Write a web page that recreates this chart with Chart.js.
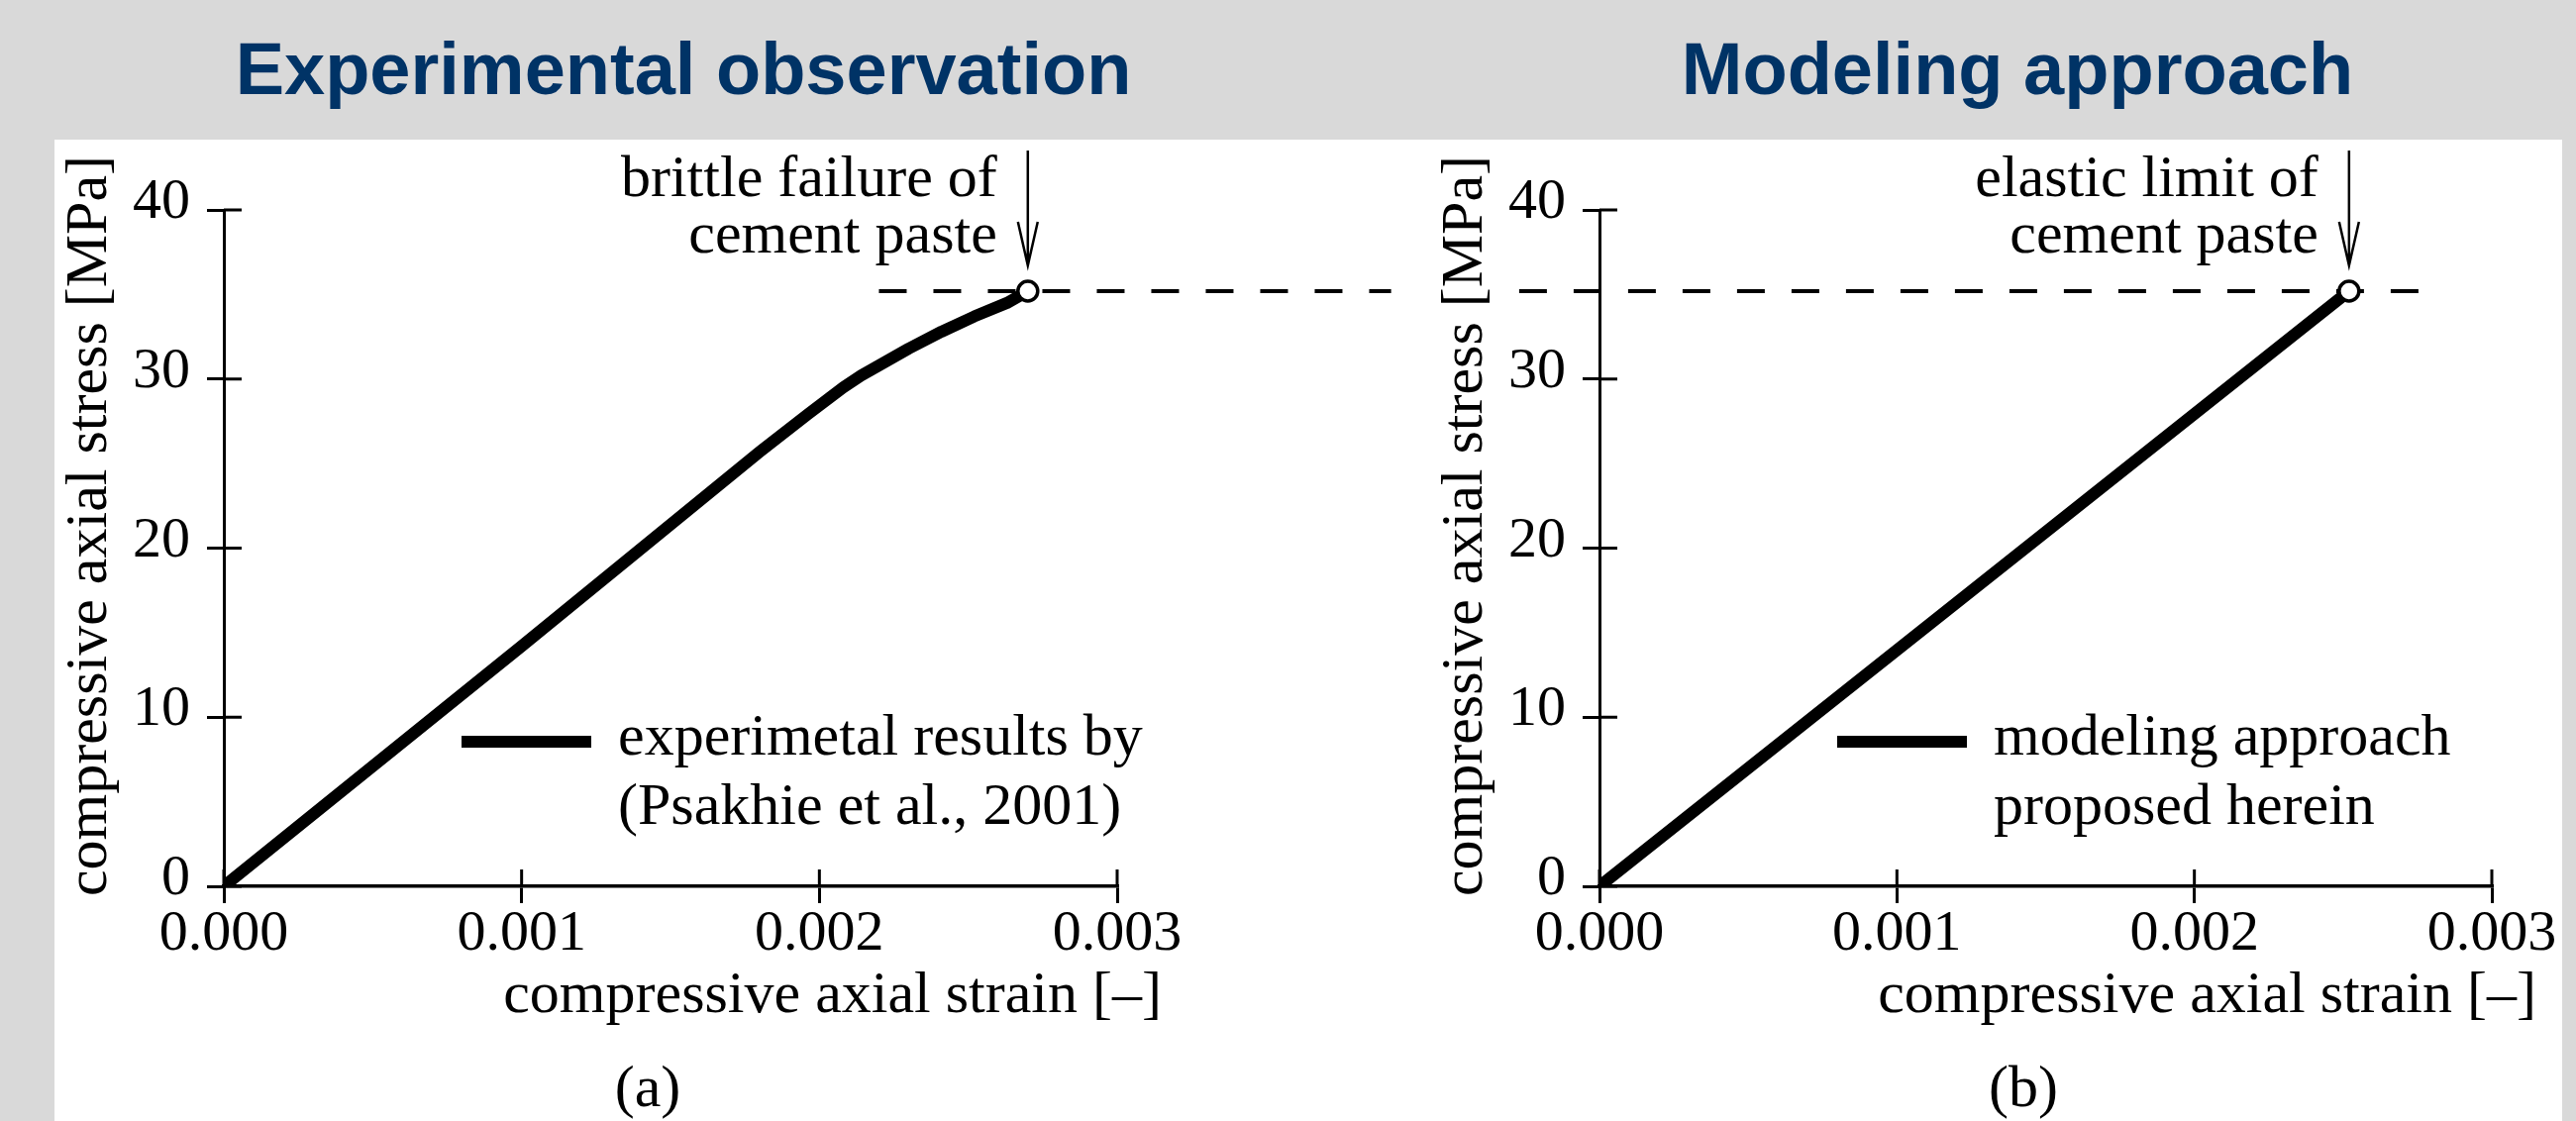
<!DOCTYPE html>
<html>
<head>
<meta charset="utf-8">
<title>Compressive stress-strain of cement paste</title>
<script src="https://cdn.jsdelivr.net/npm/chart.js@4.4.0/dist/chart.umd.min.js"></script>
<style>
  html, body { margin: 0; padding: 0; }
  body { width: 2601px; height: 1132px; background: #d9d9d9; position: relative; overflow: hidden; }
  .panel { position: absolute; left: 55px; top: 141px; width: 2532px; height: 991px; background: #fff; }
  .heading { position: absolute; top: 33px; width: 1200px; text-align: center;
             font: bold 74px "Liberation Sans", Arial, sans-serif; line-height: 74px; color: #003366; }
  canvas { position: absolute; top: 0; }
</style>
</head>
<body>
<div class="panel"></div>
<div class="heading" style="left: 90px">Experimental observation</div>
<div class="heading" style="left: 1437px">Modeling approach</div>
<canvas id="chartA" width="1450" height="1132" style="left: 0"></canvas>
<canvas id="chartB" width="1301" height="1132" style="left: 1300px"></canvas>
<script>
// tick labels
const strainTicks = [0, 0.001, 0.002, 0.003];
const stressTicks = [0, 10, 20, 30, 40];

// (a) experimental curve
const expStrain = [0, 0.0010, 0.0018, 0.00196, 0.00208, 0.00214, 0.00219, 0.00230, 0.00241, 0.00252, 0.00263, 0.00270];
const expStress = [0, 14.2, 25.7, 27.9, 29.5, 30.2, 30.7, 31.8, 32.8, 33.7, 34.5, 35.2];

// (b) linear model
const modelStrain = [0, 0.00252];
const modelStress = [0, 35.2];

// failure / elastic limit level and the dashed guide lines
const limitStress = 35.2;
const dashStrainA = [0.0022, 0.00392];
const dashStrainB = [-0.00027, 0.00277];

const FONT = '60px "Liberation Serif", "Times New Roman", serif';

function pts(xs, ys) {
    return xs.map((v, i) => ({ x: v, y: ys[i] }));
}

// axis titles, legend, arrow note, inner tick halves, caption
const decor = {
    id: 'decor',
    afterDatasetsDraw(chart, args, o) {
        const { ctx, chartArea: a, scales: { x, y } } = chart;
        ctx.save();
        ctx.fillStyle = '#000';
        ctx.strokeStyle = '#000';
        ctx.font = FONT;

        // ticks cross the axes
        ctx.lineWidth = 3;
        ctx.beginPath();
        x.ticks.forEach(t => {
            const px = x.getPixelForValue(t.value);
            ctx.moveTo(px, a.bottom);
            ctx.lineTo(px, a.bottom - 17);
        });
        y.ticks.forEach(t => {
            const py = y.getPixelForValue(t.value);
            ctx.moveTo(a.left, py);
            ctx.lineTo(a.left + 18, py);
        });
        ctx.stroke();

        // y title
        ctx.save();
        ctx.translate(a.left - 135, 531);
        ctx.rotate(-Math.PI / 2);
        ctx.textAlign = 'center';
        ctx.textBaseline = 'middle';
        ctx.fillText('compressive axial stress [MPa]', 0, 0);
        ctx.restore();

        // x title
        ctx.textAlign = 'right';
        ctx.textBaseline = 'alphabetic';
        ctx.fillText('compressive axial strain [–]', a.right + 45, 1022);

        // legend
        ctx.lineWidth = 12;
        ctx.beginPath();
        ctx.moveTo(a.left + 240, 749);
        ctx.lineTo(a.left + 371, 749);
        ctx.stroke();
        ctx.textAlign = 'left';
        o.legend.forEach((s, i) => ctx.fillText(s, a.left + 398, 762 + i * 70));

        // note with arrow to the marker
        const mx = x.getPixelForValue(o.markerX);
        ctx.textAlign = 'right';
        o.note.forEach((s, i) => ctx.fillText(s, mx - 31, 198 + i * 57));
        ctx.lineWidth = 2.5;
        ctx.beginPath();
        ctx.moveTo(mx, 152);
        ctx.lineTo(mx, 268);
        ctx.moveTo(mx - 10, 224);
        ctx.lineTo(mx, 268);
        ctx.lineTo(mx + 10, 224);
        ctx.stroke();

        // caption
        ctx.textAlign = 'center';
        ctx.fillText(o.caption, a.left + 428, 1117);
        ctx.restore();
    }
};

function makeChart(id, curve, markerX, dash, leftW, rightPad, extra) {
    return new Chart(document.getElementById(id), {
        type: 'scatter',
        data: {
            datasets: [
                {
                    data: [{ x: markerX, y: limitStress }],
                    pointRadius: 10,
                    pointBorderWidth: 3.5,
                    pointBackgroundColor: '#fff',
                    pointBorderColor: '#000'
                },
                {
                    data: curve,
                    showLine: true,
                    borderColor: '#000',
                    borderWidth: 12,
                    borderCapStyle: 'round',
                    borderJoinStyle: 'round',
                    tension: 0,
                    pointRadius: 0
                },
                {
                    data: dash.map(v => ({ x: v, y: limitStress })),
                    showLine: true,
                    borderColor: '#000',
                    borderWidth: 4,
                    borderDash: [28, 27],
                    pointRadius: 0,
                    clip: false
                }
            ]
        },
        options: {
            responsive: false,
            animation: false,
            events: [],
            layout: { autoPadding: false, padding: { left: 0, top: 212, right: rightPad, bottom: 0 } },
            plugins: { legend: { display: false }, tooltip: { enabled: false }, decor: extra },
            scales: {
                x: {
                    type: 'linear',
                    min: 0,
                    max: 0.003,
                    afterBuildTicks: s => { s.ticks = strainTicks.map(v => ({ value: v })); },
                    afterFit: s => { s.height = 237; },
                    ticks: {
                        color: '#000',
                        padding: 3,
                        font: { family: 'Liberation Serif', size: 58, lineHeight: 1 },
                        callback: v => v.toFixed(3)
                    },
                    grid: { drawOnChartArea: false, tickLength: 17, lineWidth: 3, color: '#000' },
                    border: { color: '#000', width: 3.5 }
                },
                y: {
                    type: 'linear',
                    min: 0,
                    max: 40,
                    afterBuildTicks: s => { s.ticks = stressTicks.map(v => ({ value: v })); },
                    afterFit: s => { s.width = leftW; },
                    ticks: {
                        color: '#000',
                        padding: 17,
                        labelOffset: -7,
                        font: { family: 'Liberation Serif', size: 58, lineHeight: 1 }
                    },
                    grid: { drawOnChartArea: false, tickLength: 17, lineWidth: 3, color: '#000' },
                    border: { color: '#000', width: 3 }
                }
            }
        },
        plugins: [decor]
    });
}

makeChart('chartA', pts(expStrain, expStress), 0.0027, dashStrainA, 226, 1450 - 1128, {
    markerX: 0.0027,
    legend: ['experimetal results by', '(Psakhie et al., 2001)'],
    note: ['brittle failure of', 'cement paste'],
    caption: '(a)'
});

makeChart('chartB', pts(modelStrain, modelStress), 0.00252, dashStrainB, 315, 1301 - 1216, {
    markerX: 0.00252,
    legend: ['modeling approach', 'proposed herein'],
    note: ['elastic limit of', 'cement paste'],
    caption: '(b)'
});
</script>
</body>
</html>
